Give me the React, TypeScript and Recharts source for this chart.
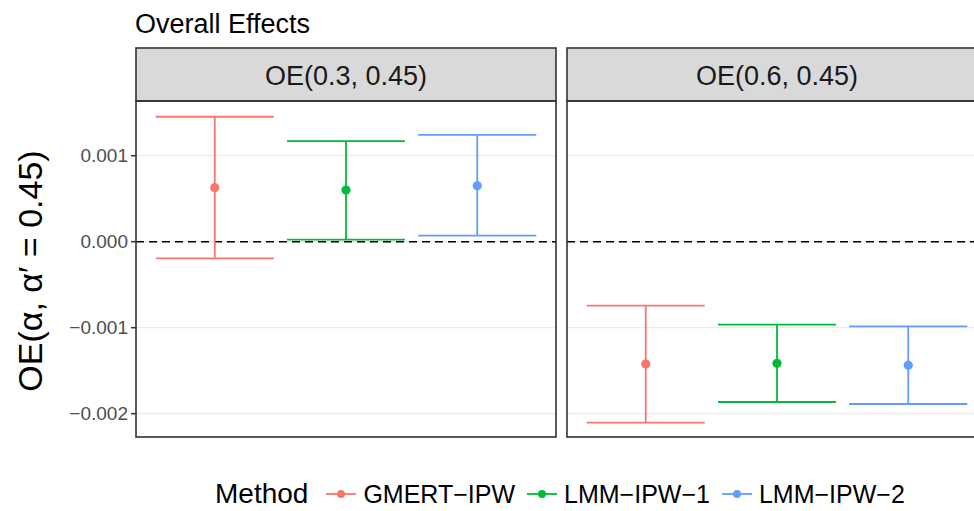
import React from "react";
import { ComposedChart, Scatter, ErrorBar, XAxis, YAxis, CartesianGrid, ReferenceLine } from "recharts";

const font = '"Liberation Sans", Arial, Helvetica, sans-serif';

// methods, in legend order
const methods = ["GMERT-IPW", "LMM-IPW-1", "LMM-IPW-2"];
const methodLabels = ["GMERT−IPW", "LMM−IPW−1", "LMM−IPW−2"];
const colors = ["#F8766D", "#00BA38", "#619CFF"];
const dodgePos = [0.7, 1, 1.3];

// facets
const panelLabels = ["OE(0.3, 0.45)", "OE(0.6, 0.45)"];

// OE(0.3, 0.45)
const est03 = [0.000628, 0.0006, 0.00065];
const lower03 = [-0.000193, 0.000023, 0.00007];
const upper03 = [0.001453, 0.001169, 0.001241];

// OE(0.6, 0.45)
const est06 = [-0.001422, -0.001414, -0.001437];
const lower06 = [-0.002105, -0.001864, -0.001887];
const upper06 = [-0.000744, -0.000965, -0.000984];

const yTicks = [-0.002, -0.001, 0, 0.001];
const yDomain = [-0.002271, 0.001636];
const xDomain = [0.52, 1.48];

const PANEL_TOP = 101;
const PANEL_H = 336;
const PANEL_W = 420;
const LEFT_X = 136;
const GAP = 11;

const fmt = (v: number) => (v < 0 ? "−" : "") + Math.abs(v).toFixed(3);

function Panel({ est, lo, hi, showAxis }: { est: number[]; lo: number[]; hi: number[]; showAxis: boolean }) {
  const axisW = showAxis ? LEFT_X : 0;
  return (
    <ComposedChart width={PANEL_W + axisW} height={PANEL_H} margin={{ top: 0, right: 0, bottom: 0, left: 0 }}>
      <CartesianGrid vertical={false} stroke="#ebebeb" strokeWidth={1.3} />
      <XAxis type="number" dataKey="x" domain={xDomain} hide allowDataOverflow />
      <YAxis
        type="number"
        dataKey="y"
        domain={yDomain}
        ticks={yTicks}
        allowDataOverflow
        hide={!showAxis}
        width={axisW}
        axisLine={false}
        tickSize={5}
        tickMargin={3}
        tickLine={{ stroke: "#333", strokeWidth: 1.5 }}
        tick={{ fontSize: 19, fill: "#4d4d4d", fontFamily: font }}
        tickFormatter={fmt}
      />
      <ReferenceLine y={0} stroke="#000" strokeDasharray="8 5" strokeWidth={1.6} />
      {methods.map((m, i) => (
        <Scatter
          key={m}
          name={m}
          data={[{ x: dodgePos[i], y: est[i], err: [est[i] - lo[i], hi[i] - est[i]] }]}
          fill={colors[i]}
          isAnimationActive={false}
          shape={(p: any) => <circle cx={p.cx} cy={p.cy} r={4.6} fill={colors[i]} />}
        >
          <ErrorBar dataKey="err" direction="y" width={59} stroke={colors[i]} strokeWidth={1.8} isAnimationActive={false} />
        </Scatter>
      ))}
    </ComposedChart>
  );
}

export default function App() {
  const rightX = LEFT_X + PANEL_W + GAP;
  return (
    <div style={{ position: "absolute", left: 0, top: 0, width: 974, height: 511, overflow: "hidden", background: "#fff", fontFamily: font }}>
      <div style={{ position: "absolute", left: 0, top: PANEL_TOP }}>
        <Panel est={est03} lo={lower03} hi={upper03} showAxis />
      </div>
      <div style={{ position: "absolute", left: rightX, top: PANEL_TOP }}>
        <Panel est={est06} lo={lower06} hi={upper06} showAxis={false} />
      </div>

      <svg width={974} height={511} style={{ position: "absolute", left: 0, top: 0, pointerEvents: "none" }}>
        <text x={135} y={33} fontSize={27} fontFamily={font} fill="#000">Overall Effects</text>
        {panelLabels.map((lab, i) => {
          const x0 = i === 0 ? LEFT_X : rightX;
          return (
            <g key={lab}>
              <rect x={x0} y={48} width={PANEL_W} height={PANEL_TOP - 48} fill="#d9d9d9" stroke="#333" strokeWidth={1.6} />
              <text x={x0 + PANEL_W / 2} y={85} textAnchor="middle" fontSize={27} fontFamily={font} fill="#1a1a1a">{lab}</text>
              <rect x={x0} y={PANEL_TOP} width={PANEL_W} height={PANEL_H} fill="none" stroke="#333" strokeWidth={1.6} />
            </g>
          );
        })}
        <text transform="translate(42, 271) rotate(-90)" textAnchor="middle" fontSize={34} fontFamily={font} fill="#000">
          OE(α, α′ = 0.45)
        </text>
      </svg>

      <div style={{ position: "absolute", left: 215, top: 478, height: 32, display: "flex", alignItems: "center", whiteSpace: "nowrap", lineHeight: "normal" }}>
        <div style={{ fontSize: 28, marginRight: 18 }}>Method</div>
        {methodLabels.map((lab, i) => (
          <React.Fragment key={lab}>
            <svg width={30} height={12} style={{ marginRight: 7, flexShrink: 0 }}>
              <line x1={0} y1={6} x2={30} y2={6} stroke={colors[i]} strokeWidth={1.8} />
              <circle cx={15} cy={6} r={4} fill={colors[i]} />
            </svg>
            <div style={{ fontSize: 25, marginRight: 12 }}>{lab}</div>
          </React.Fragment>
        ))}
      </div>
    </div>
  );
}
